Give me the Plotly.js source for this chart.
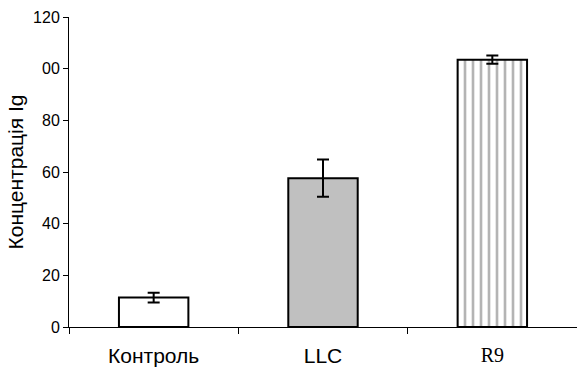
<!DOCTYPE html>
<html><head><meta charset="utf-8">
<script src="https://cdn.plot.ly/plotly-3.0.1.min.js"></script>
<style>html,body{margin:0;padding:0;background:#fff}#c{width:577px;height:369px}</style>
</head><body><div id="c"></div>
<script>
const categories = ["Контроль", "LLC", "R9"];
const tickLabels = ["Контроль", "LLC", "R9"];
const serifLabel = [false, false, true];
const values = [11.4, 57.6, 103.5];
const errors = [1.9, 7.2, 1.6];
const yTickVals = [0, 20, 40, 60, 80, 100, 120];
const yTickText = ["0", "20", "40", "60", "80", "00", "120"];

const fills = ["#ffffff", "#c0c0c0", "#ffffff"];
const patterns = ["", "", "|"];

const traces = categories.map((c, i) => ({
  type: "bar",
  x: [c],
  y: [values[i]],
  width: 0.41,
  marker: {
    color: fills[i],
    line: {color: "#000", width: 2},
    pattern: patterns[i] ? {shape: patterns[i], fgcolor: "#6a6a6a", bgcolor: "#ffffff", size: 8, solidity: 0.33, fillmode: "overlay"} : undefined
  },
  error_y: {type: "data", array: [errors[i]], visible: true, color: "#000", thickness: 2, width: 6}
}));

const serifIdx = categories.map((c, i) => i).filter(i => serifLabel[i]);

// invisible helper trace so the overlaying label axis is drawn
traces.push({
  type: "scatter", mode: "none", xaxis: "x2", yaxis: "y",
  x: serifIdx, y: serifIdx.map(i => values[i]), hoverinfo: "skip", showlegend: false
});

const layout = {
  width: 577, height: 369,
  margin: {l: 69, r: 0, t: 17, b: 42},
  paper_bgcolor: "#fff", plot_bgcolor: "#fff",
  showlegend: false, barmode: "overlay",
  font: {family: "Arial, 'Liberation Sans', sans-serif", color: "#000"},
  xaxis: {
    type: "category", range: [-0.5, 2.5], tickmode: "array",
    tickvals: categories, ticktext: categories.map((c, i) => serifLabel[i] ? " " : tickLabels[i]),
    tickson: "boundaries", ticks: "outside", ticklen: 6, tickcolor: "#000", tickwidth: 1,
    showline: true, linecolor: "#000", linewidth: 1, showgrid: false, zeroline: false,
    tickfont: {size: 21}, ticklabelstandoff: 10
  },
  xaxis2: {
    type: "linear", overlaying: "x", side: "bottom", range: [-0.5, 2.5],
    tickmode: "array", tickvals: serifIdx, ticktext: serifIdx.map(i => tickLabels[i]),
    ticks: "outside", ticklen: 6, tickcolor: "rgba(0,0,0,0)",
    showline: false, showgrid: false, zeroline: false,
    tickfont: {size: 20, family: "'Liberation Serif', 'Times New Roman', serif"}, ticklabelstandoff: 4
  },
  yaxis: {
    range: [0, 120], tickmode: "array", tickvals: yTickVals, ticktext: yTickText,
    ticks: "outside", ticklen: 5, tickcolor: "#000", tickwidth: 1,
    showline: true, linecolor: "#000", linewidth: 1, showgrid: false, zeroline: false,
    tickfont: {size: 16},
    title: {text: "Концентрація Ig", font: {size: 21}, standoff: 3}
  }
};
Plotly.newPlot("c", traces, layout, {displayModeBar: false, staticPlot: true});
</script></body></html>
